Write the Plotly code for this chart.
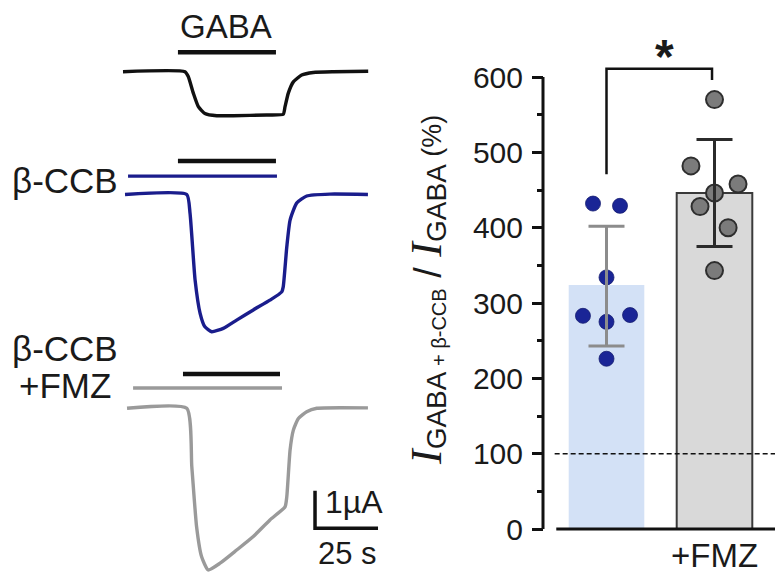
import plotly.graph_objects as go

W, H = 775, 573

# ---------------- data: bar chart (right) ----------------
group_x = [1, 2]
group_labels = ["", "+FMZ"]
group_means = [324, 446]
group_sd_up = [78, 71]
group_sd_down = [81, 71]
ctrl_values = [432, 429, 334, 283, 275, 284, 226]
fmz_values = [570, 482, 458, 446, 428, 400, 343]
ref_level = 100
y_ticks = [0, 100, 200, 300, 400, 500, 600]
y_minor = [50, 150, 250, 350, 450, 550]

# ---------------- data: current traces (left), time in s, current in µA ----------------
t_ctrl = [0, 24.6, 25.9, 27.9, 29.9, 32.5, 37.2, 43.8, 57.0, 63.6, 64.3, 65.6, 67.6, 70.9, 75.5, 83.5, 97.3]
i_ctrl = [0, 0, -0.13, -0.57, -0.93, -1.11, -1.17, -1.17, -1.15, -1.13, -0.93, -0.57, -0.27, -0.09, -0.02, 0, 0.01]
t_ccb = [0.8, 25.3, 26.6, 28.6, 30.6, 32.5, 35.2, 39.8, 45.1, 51.7, 58.3, 63.0, 63.6, 65.0, 66.3, 68.9, 72.9, 82.1, 97.2]
i_ccb = [0, 0, -0.5, -2.27, -3.16, -3.52, -3.65, -3.56, -3.34, -3.07, -2.81, -2.59, -2.45, -1.39, -0.68, -0.23, -0.04, 0.01, 0]
t_fmz = [1.6, 25.3, 27.3, 29.2, 31.2, 33.8, 38.5, 45.1, 51.7, 58.3, 64.3, 65.0, 66.3, 67.6, 69.6, 72.9, 76.9, 97.2]
i_fmz = [0, 0, -1.55, -3.15, -3.95, -4.30, -4.12, -3.77, -3.41, -2.97, -2.62, -2.35, -1.11, -0.58, -0.27, -0.09, 0, 0.01]
gaba_on = [21.8, 21.8, 23.8]
gaba_off = [60.7, 60.7, 62.3]
drug_on = [2.0, 4.0]
drug_off = [61.1, 63.1]
scale_time = 25   # s
scale_current = 1  # µA

# ---------------- layout helpers (positions / styles) ----------------
PX_PER_S = 2.52
PX_PER_UA = 37.6
T0_PX = 123
def px_x(px):
    return px / W
def px_y(py):
    return 1 - py / H

trace_base = [-71.7 / PX_PER_UA, -194.5 / PX_PER_UA, -408.3 / PX_PER_UA]
gaba_bar_lift = [0.52, 0.89, 0.91]
drug_bar_lift = [0.49, 0.54]
scale_t0 = 76.2
scale_y0 = -528.3 / PX_PER_UA

BLACK = "#111111"
BLUE = "#1a1d8c"
GRAY_TR = "#9a9a9a"
TXT = "#1a1a1a"
FONT = "Liberation Sans, Arial, sans-serif"

fig = go.Figure()

def add_line(x, y, color, width, shape="linear"):
    fig.add_trace(go.Scatter(x=x, y=y, mode="lines", xaxis="x2", yaxis="y2",
                             line=dict(color=color, width=width, shape=shape, smoothing=0.5),
                             hoverinfo="skip", showlegend=False))

traces = [(t_ctrl, i_ctrl, BLACK), (t_ccb, i_ccb, BLUE), (t_fmz, i_fmz, GRAY_TR)]
for k, (t, i, c) in enumerate(traces):
    add_line(t, [v + trace_base[k] for v in i], c, 3.4, "spline")
    yb = trace_base[k] + gaba_bar_lift[k]
    add_line([gaba_on[k], gaba_off[k]], [yb, yb], BLACK, 4.5)
for k, c in enumerate([BLUE, GRAY_TR]):
    yb = trace_base[k + 1] + drug_bar_lift[k]
    add_line([drug_on[k], drug_off[k]], [yb, yb], c, 3.4)

add_line([scale_t0, scale_t0, scale_t0 + scale_time],
         [scale_y0 + scale_current, scale_y0, scale_y0], BLACK, 3.5)

# ---- right panel
fig.add_trace(go.Bar(x=group_x, y=group_means, width=0.7,
                     marker=dict(color=["#d3e1f6", "#d9d9d9"],
                                 line=dict(color=["rgba(0,0,0,0)", "#3a3a3a"], width=[0, 2])),
                     hoverinfo="skip", showlegend=False))

ctrl_off = [-0.125, 0.125, 0.0, -0.218, 0.0, 0.218, 0.0]
fmz_off = [0.0, -0.218, 0.218, 0.0, -0.134, 0.126, 0.0]
fig.add_trace(go.Scatter(x=[group_x[0] + o for o in ctrl_off], y=ctrl_values, mode="markers",
                         marker=dict(size=15, color="#1a2596", line=dict(color="#141c70", width=0.8)),
                         cliponaxis=False, hoverinfo="skip", showlegend=False))
fig.add_trace(go.Scatter(x=[group_x[1] + o for o in fmz_off], y=fmz_values, mode="markers",
                         marker=dict(size=17, color="#7b7b7b", line=dict(color="#2e2e2e", width=2)),
                         cliponaxis=False, hoverinfo="skip", showlegend=False))

for k, col in enumerate(["#8c8c8c", "#2b2b2b"]):
    fig.add_trace(go.Scatter(x=[group_x[k]], y=[group_means[k]], mode="markers",
                             marker=dict(size=1, opacity=0),
                             error_y=dict(type="data", symmetric=False, array=[group_sd_up[k]],
                                          arrayminus=[group_sd_down[k]], color=col, thickness=3, width=18),
                             hoverinfo="skip", showlegend=False))

br_y = 611
fig.add_trace(go.Scatter(x=[group_x[0], group_x[0], 1.977, 1.977], y=[471, br_y, br_y, 596],
                         mode="lines", line=dict(color=BLACK, width=2.5),
                         hoverinfo="skip", showlegend=False))

axis_pos = px_x(543)
shapes = [
    dict(type="line", xref="paper", yref="y", x0=axis_pos, x1=axis_pos, y0=0, y1=600,
         line=dict(color=BLACK, width=3)),
    dict(type="line", xref="x", yref="y", x0=0.535, x1=2.6, y0=0, y1=0,
         line=dict(color=BLACK, width=3)),
    dict(type="line", xref="x", yref="y", x0=0.52, x1=2.6, y0=ref_level, y1=ref_level,
         line=dict(color=BLACK, width=1.5, dash="5px,3px"), layer="above"),
]

ytitle = ('<span style="font-family:Liberation Serif;font-size:44px"><i>I</i></span>'
          '<sub><span style="font-size:28px">GABA</span><span style="font-size:20px"> + β-CCB</span></sub>'
          '<span style="font-size:38px"> / </span>'
          '<span style="font-family:Liberation Serif;font-size:44px"><i>I</i></span>'
          '<sub><span style="font-size:28px">GABA</span></sub>'
          '<span style="font-size:27px"> (%)</span>')

annotations = [
    dict(text="GABA", x=px_x(226), y=px_y(27), font=dict(size=33)),
    dict(text="β-CCB", x=px_x(65), y=px_y(180), font=dict(size=35)),
    dict(text="β-CCB", x=px_x(65), y=px_y(348), font=dict(size=35)),
    dict(text="+FMZ", x=px_x(65), y=px_y(385), font=dict(size=35)),
    dict(text="1µA", x=px_x(323), y=px_y(502), xanchor="left", font=dict(size=32)),
    dict(text="25 s", x=px_x(347), y=px_y(553), font=dict(size=31)),
    dict(text="<b>*</b>", x=px_x(664), y=px_y(57), font=dict(size=48)),
    dict(text=ytitle, x=px_x(427), y=px_y(290), textangle=-90, font=dict(size=24)),
]
for a in annotations:
    a.setdefault("xref", "paper")
    a.setdefault("yref", "paper")
    a.setdefault("xanchor", "center")
    a.setdefault("yanchor", "middle")
    a.setdefault("showarrow", False)
    a["font"] = dict(family=FONT, color=TXT, **a["font"])

y_lo, y_hi = -5, 680
ppu = (529 - 77) / 600
ydom = [px_y(529 + (0 - y_lo) * ppu), px_y(529 - y_hi * ppu)]
x_lo = 1 + (480 - 606.5) / 108
x_hi = 1 + (775 - 606.5) / 108

shown = [(x, l) for x, l in zip(group_x, group_labels) if l]

fig.update_layout(
    width=W, height=H, margin=dict(l=0, r=0, t=0, b=0, pad=0, autoexpand=False),
    paper_bgcolor="white", plot_bgcolor="rgba(0,0,0,0)",
    font=dict(family=FONT, color=TXT),
    barmode="overlay",
    xaxis=dict(domain=[px_x(480), 1], range=[x_lo, x_hi], showgrid=False, zeroline=False,
               showline=False, tickvals=[s[0] for s in shown], ticktext=[s[1] for s in shown], ticks="",
               tickfont=dict(size=33, color=TXT), anchor="y", automargin=False, ticklabelstandoff=0),
    yaxis=dict(domain=ydom, range=[y_lo, y_hi], anchor="free", position=axis_pos,
               showgrid=False, zeroline=False, showline=False, automargin=False,
               tickvals=y_ticks, ticks="outside", ticklen=11, tickwidth=3, tickcolor=BLACK,
               tickfont=dict(size=30, color=TXT), ticklabelstandoff=3,
               minor=dict(tickvals=y_minor, ticks="outside", ticklen=6, tickwidth=3, tickcolor=BLACK)),
    xaxis2=dict(domain=[0, px_x(400)], range=[-T0_PX / PX_PER_S, (400 - T0_PX) / PX_PER_S],
                visible=False, anchor="y2", automargin=False),
    yaxis2=dict(domain=[0, 1], range=[-H / PX_PER_UA, 0], visible=False, anchor="x2", automargin=False),
    shapes=shapes, annotations=annotations,
)

fig.write_html("out.html")
